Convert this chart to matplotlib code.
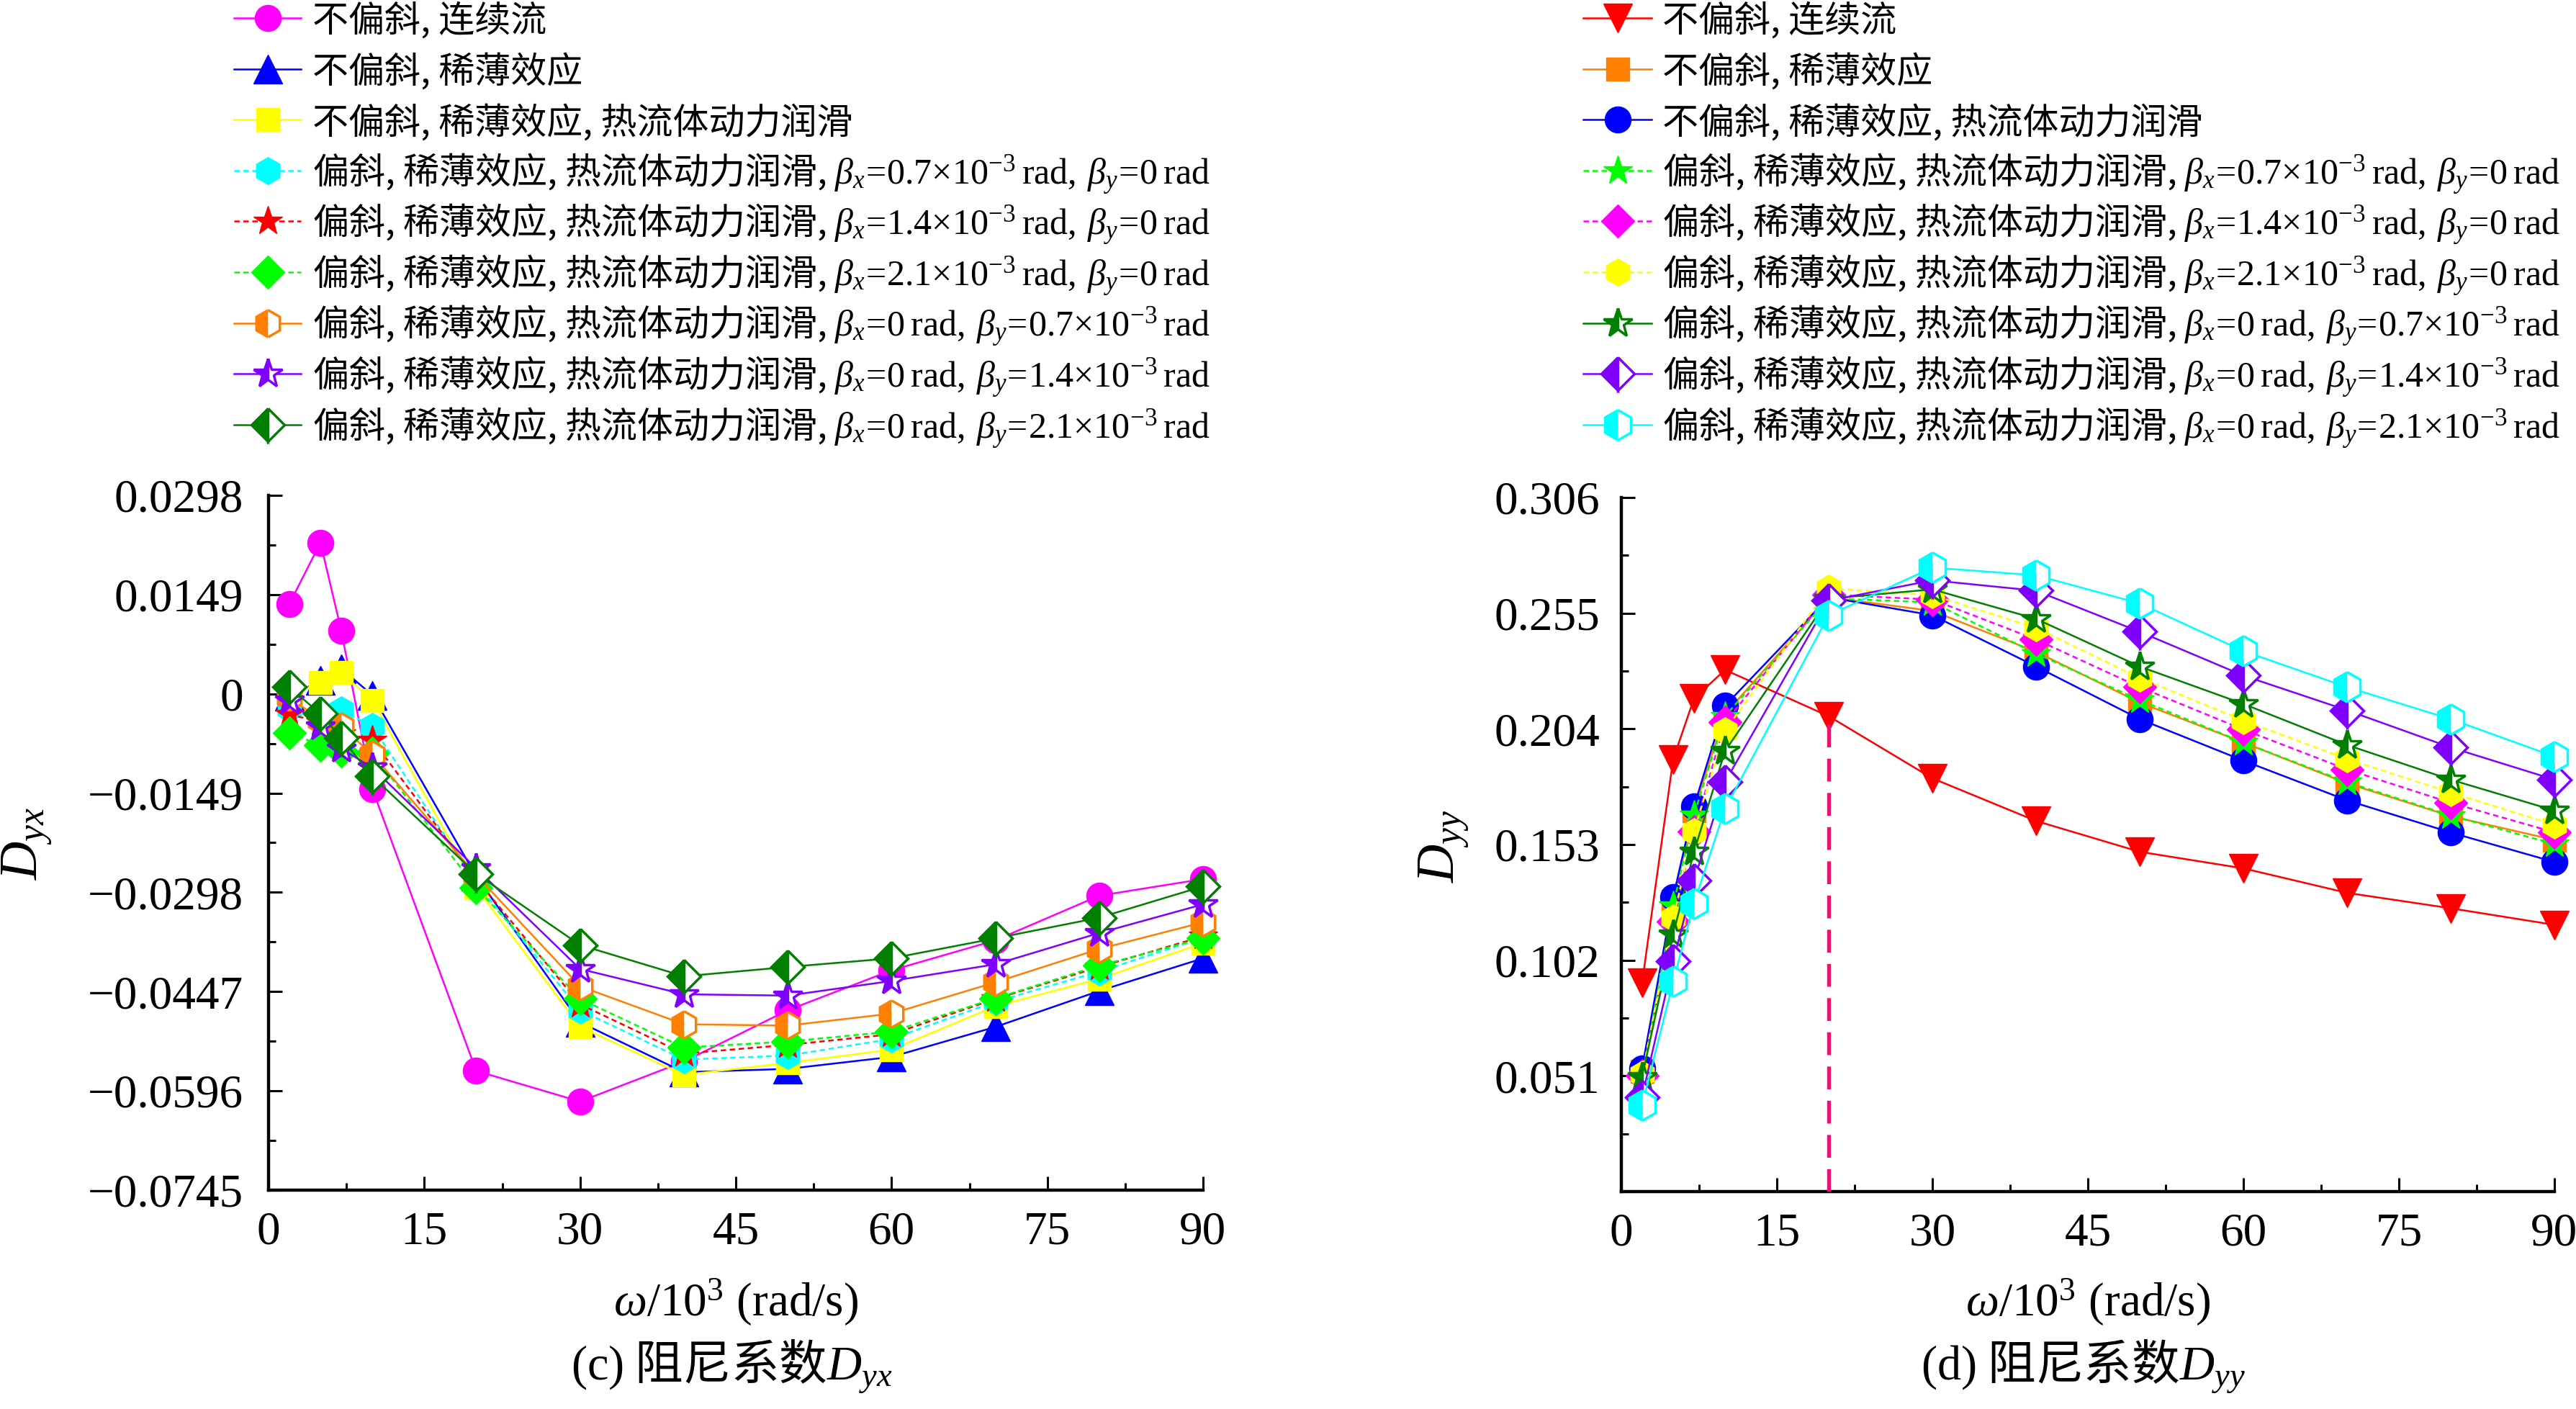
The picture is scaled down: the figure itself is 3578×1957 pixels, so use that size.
import numpy as np
import matplotlib
matplotlib.use("Agg")
import matplotlib.pyplot as plt
from matplotlib.lines import Line2D

plt.rcParams['font.family'] = ['Liberation Serif', 'Noto Sans CJK SC']
plt.rcParams['mathtext.fontset'] = 'custom'
plt.rcParams['mathtext.rm'] = 'Liberation Serif'
plt.rcParams['mathtext.it'] = 'Liberation Serif:italic'
plt.rcParams['mathtext.bf'] = 'Liberation Serif:bold'

# ---------------- data ----------------
omega = [2, 5, 7, 10, 20, 30, 40, 50, 60, 70, 80, 90]

# (c) D_yx
yx_cont = [0.0135, 0.0227, 0.0095, -0.0143, -0.0566, -0.0612, -0.0552, -0.0475, -0.0415, -0.0370, -0.0303, -0.0278]
yx_rare = [-0.0004, 0.0020, 0.0038, -0.0002, -0.0274, -0.0493, -0.0568, -0.0563, -0.0545, -0.0500, -0.0446, -0.0397]
yx_thd = [-0.0002, 0.0017, 0.0032, -0.0010, -0.0291, -0.0500, -0.0572, -0.0554, -0.0534, -0.0469, -0.0428, -0.0374]
yx_bx07 = [-0.0022, -0.0035, -0.0024, -0.0049, -0.0284, -0.0475, -0.0549, -0.0543, -0.0518, -0.0462, -0.0417, -0.0366]
yx_bx14 = [-0.0031, -0.0042, -0.0060, -0.0069, -0.0278, -0.0466, -0.0540, -0.0527, -0.0511, -0.0458, -0.0410, -0.0364]
yx_bx21 = [-0.0059, -0.0077, -0.0086, -0.0089, -0.0291, -0.0458, -0.0531, -0.0522, -0.0507, -0.0457, -0.0408, -0.0367]
yx_by07 = [-0.0005, -0.0039, -0.0049, -0.0091, -0.0272, -0.0439, -0.0496, -0.0498, -0.0480, -0.0433, -0.0383, -0.0343]
yx_by14 = [-0.0010, -0.0049, -0.0082, -0.0111, -0.0262, -0.0413, -0.0451, -0.0453, -0.0431, -0.0406, -0.0359, -0.0316]
yx_by21 = [0.0010, -0.0030, -0.0066, -0.0124, -0.0270, -0.0377, -0.0424, -0.0410, -0.0397, -0.0367, -0.0336, -0.0289]

# (d) D_yy
yy_cont = [0.0920, 0.1906, 0.2173, 0.2300, 0.2096, 0.1822, 0.1634, 0.1498, 0.1425, 0.1317, 0.1249, 0.1176]
yy_rare = [0.0530, 0.1280, 0.1680, 0.2105, 0.2620, 0.2560, 0.2380, 0.2156, 0.1980, 0.1800, 0.1655, 0.1550]
yy_thd = [0.0544, 0.1298, 0.1697, 0.2142, 0.2620, 0.2541, 0.2315, 0.2083, 0.1900, 0.1725, 0.1583, 0.1453]
yy_bx07 = [0.0500, 0.1260, 0.1660, 0.2096, 0.2615, 0.2598, 0.2372, 0.2167, 0.1980, 0.1805, 0.1658, 0.1532]
yy_bx14 = [0.0510, 0.1190, 0.1588, 0.2069, 0.2632, 0.2610, 0.2434, 0.2224, 0.2037, 0.1861, 0.1714, 0.1584]
yy_bx21 = [0.0517, 0.1207, 0.1588, 0.2033, 0.2659, 0.2630, 0.2485, 0.2264, 0.2077, 0.1907, 0.1759, 0.1617]
yy_by07 = [0.0505, 0.1134, 0.1497, 0.1942, 0.2614, 0.2655, 0.2525, 0.2315, 0.2150, 0.1969, 0.1816, 0.1680]
yy_by14 = [0.0417, 0.1016, 0.1370, 0.1806, 0.2605, 0.2695, 0.2649, 0.2468, 0.2275, 0.2122, 0.1958, 0.1816]
yy_by21 = [0.0381, 0.0926, 0.1270, 0.1688, 0.2541, 0.2751, 0.2717, 0.2593, 0.2383, 0.2224, 0.2083, 0.1918]

labels = [
    '不偏斜, 连续流',
    '不偏斜, 稀薄效应',
    '不偏斜, 稀薄效应, 热流体动力润滑',
    r'偏斜, 稀薄效应, 热流体动力润滑, $\beta_x\!=\!0.7{\times}10^{-3}\:\mathrm{rad},\:\beta_y\!=\!0\:\mathrm{rad}$',
    r'偏斜, 稀薄效应, 热流体动力润滑, $\beta_x\!=\!1.4{\times}10^{-3}\:\mathrm{rad},\:\beta_y\!=\!0\:\mathrm{rad}$',
    r'偏斜, 稀薄效应, 热流体动力润滑, $\beta_x\!=\!2.1{\times}10^{-3}\:\mathrm{rad},\:\beta_y\!=\!0\:\mathrm{rad}$',
    r'偏斜, 稀薄效应, 热流体动力润滑, $\beta_x\!=\!0\:\mathrm{rad},\:\beta_y\!=\!0.7{\times}10^{-3}\:\mathrm{rad}$',
    r'偏斜, 稀薄效应, 热流体动力润滑, $\beta_x\!=\!0\:\mathrm{rad},\:\beta_y\!=\!1.4{\times}10^{-3}\:\mathrm{rad}$',
    r'偏斜, 稀薄效应, 热流体动力润滑, $\beta_x\!=\!0\:\mathrm{rad},\:\beta_y\!=\!2.1{\times}10^{-3}\:\mathrm{rad}$',
]

xticks = [0, 15, 30, 45, 60, 75, 90]
yx_ticks = np.linspace(-0.0745, 0.0298, 8)
yy_ticks = np.linspace(0.0, 0.306, 7)

# ---------------- styles ----------------
MAG, BLU, YEL, CYA, RED, LIM = '#FF00FF', '#0000FF', '#FFFF00', '#00FFFF', '#FF0000', '#00FF00'
ORA, PUR, DGR = '#FF8000', '#8000FF', '#007F00'
DASH = (0, (3, 2))
LW = 1.8


def full(color, marker, ms, ls='-'):
    return dict(color=color, marker=marker, markersize=ms, markerfacecolor=color,
                markeredgecolor=color, markeredgewidth=1, linestyle=ls, linewidth=LW)


def half(color, marker, ms, ls='-'):
    return dict(color=color, marker=marker, markersize=ms, markerfacecolor=color,
                markerfacecoloralt='white', fillstyle='left', markeredgecolor=color,
                markeredgewidth=2.5, linestyle=ls, linewidth=LW)


left_styles = [
    full(MAG, 'o', 26),
    full(BLU, '^', 29),
    full(YEL, 's', 23),
    full(CYA, 'h', 27, DASH),
    full(RED, '*', 30, DASH),
    full(LIM, 'D', 23, DASH),
    half(ORA, 'h', 27),
    half(PUR, '*', 30),
    half(DGR, 'D', 23),
]
right_styles = [
    full(RED, 'v', 29),
    full(ORA, 's', 23),
    full(BLU, 'o', 26),
    full(LIM, '*', 30, DASH),
    full(MAG, 'D', 23, DASH),
    full(YEL, 'h', 27, DASH),
    half(DGR, '*', 30),
    half(PUR, 'D', 23),
    half(CYA, 'h', 30),
]

left_series = [yx_cont, yx_rare, yx_thd, yx_bx07, yx_bx14, yx_bx21, yx_by07, yx_by14, yx_by21]
right_series = [yy_cont, yy_rare, yy_thd, yy_bx07, yy_bx14, yy_bx21, yy_by07, yy_by14, yy_by21]

W, H = 3578, 1957
fig = plt.figure(figsize=(W / 100, H / 100), dpi=100)

axL = fig.add_axes([373 / W, 1 - 1653 / H, 1298 / W, 965 / H])
axR = fig.add_axes([2252 / W, 1 - 1655 / H, 1296 / W, 964 / H])

for s, st in zip(left_series, left_styles):
    axL.plot(omega, s, clip_on=False, **st)
for s, st in zip(right_series, right_styles):
    axR.plot(omega, s, clip_on=False, **st)

# dashed guide line at omega = 20e3 rad/s
i20 = omega.index(20)
axR.vlines(omega[i20], 0, min(s[i20] for s in right_series), colors='#E6146E',
           linestyles=(0, (6, 3)), linewidth=3.8, zorder=10)


def style_axes(ax, yticks, ylabels, ypad):
    ax.set_xlim(0, 90)
    ax.set_ylim(yticks[0], yticks[-1])
    ax.set_xticks(xticks)
    ax.set_xticks(np.arange(7.5, 90, 15), minor=True)
    ax.set_yticks(yticks)
    ax.set_yticklabels(ylabels)
    step = yticks[1] - yticks[0]
    ax.set_yticks(np.asarray(yticks[:-1]) + step / 2, minor=True)
    ax.set_xticklabels([str(v) for v in xticks])
    for sp in ['top', 'right']:
        ax.spines[sp].set_visible(False)
    for sp in ['left', 'bottom']:
        ax.spines[sp].set_linewidth(3.2)
    ax.tick_params(which='both', direction='in', top=False, right=False, width=2.2)
    ax.tick_params(which='major', length=14, labelsize=47)
    ax.tick_params(which='minor', length=7)
    ax.tick_params(axis='y', which='major', pad=ypad)
    ax.tick_params(axis='x', which='major', pad=21)


def fmt(v, nd):
    if abs(v) < 1e-12:
        return '0'
    return f'{v:.{nd}f}'.replace('-', '\u2212')


style_axes(axL, yx_ticks, [fmt(v, 4) for v in yx_ticks], 25)
style_axes(axR, yy_ticks, [''] + [fmt(v, 3) for v in yy_ticks[1:]], 21.5)

# axis labels
fig.text(37 / W, 1 - 1171 / H, r'$D_{yx}$', rotation=90, ha='center', va='center', fontsize=53)
fig.text(2005 / W, 1 - 1175 / H, r'$D_{yy}$', rotation=90, ha='center', va='center', fontsize=53)
for cx in (1022, 2900):
    fig.text(cx / W, 1 - 1827 / H, r'$\omega$/10$^3$ (rad/s)', ha='center', va='baseline', fontsize=47)
fig.text(1016 / W, 1 - 1917 / H, r'$\mathrm{(c)}$ 阻尼系数$D_{yx}$', ha='center', va='baseline',
         fontsize=48, family='Noto Sans CJK SC')
fig.text(2893 / W, 1 - 1917 / H, r'$\mathrm{(d)}$ 阻尼系数$D_{yy}$', ha='center', va='baseline',
         fontsize=48, family='Noto Sans CJK SC')


# legends (drawn row by row for uniform spacing)
def draw_legend(styles, x0, x1, xt):
    fs = 36
    for i, (lab, st) in enumerate(zip(labels, styles)):
        yc = 1 - (25 + 70.6 * i) / H
        ln = Line2D([x0 / W, (x0 + x1) / 2 / W, x1 / W], [yc, yc, yc], transform=fig.transFigure,
                    markevery=[1], **st)
        fig.add_artist(ln)
        fig.text(xt / W, yc - 19 / H, lab, ha='left', va='baseline', fontsize=fs,
                 family='Noto Sans CJK SC')


draw_legend(left_styles, 325, 418, 434)
draw_legend(right_styles, 2199, 2294, 2309)

fig.savefig('out.png', dpi=100)
